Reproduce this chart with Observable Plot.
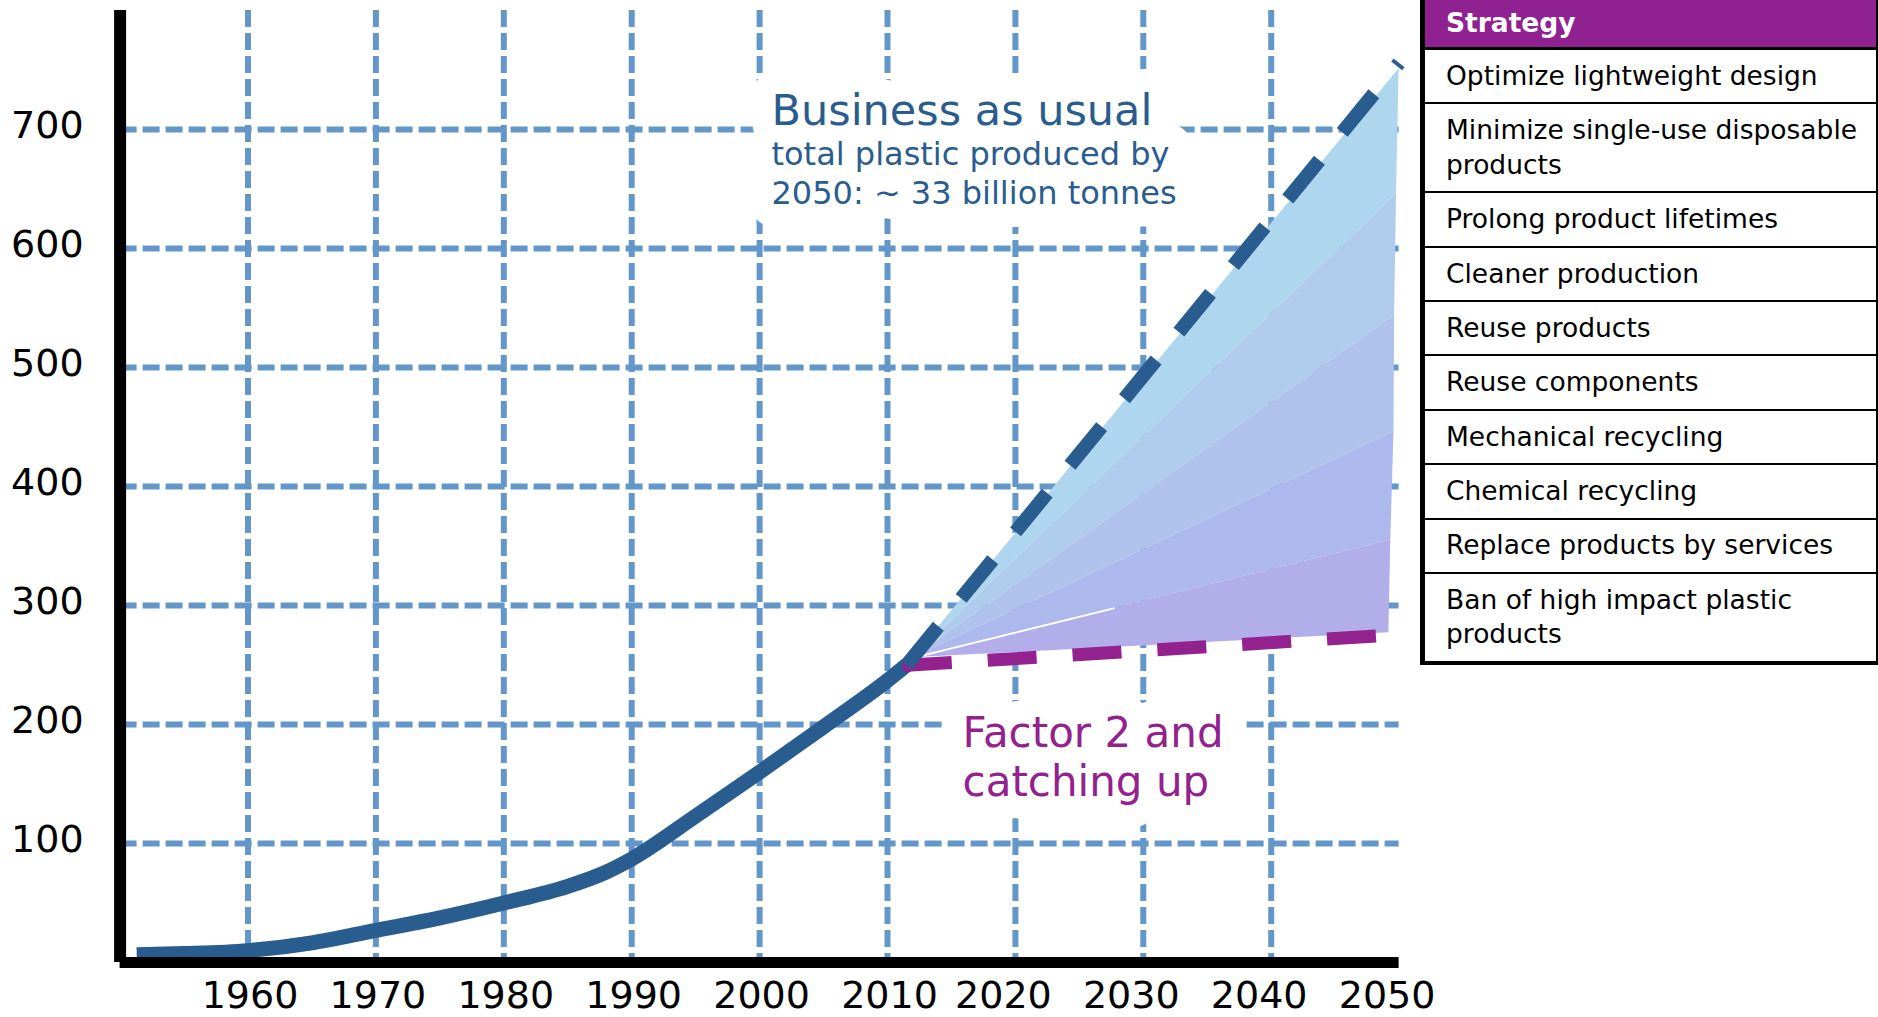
<!DOCTYPE html>
<html>
<head>
<meta charset="utf-8">
<script src="https://cdn.jsdelivr.net/npm/d3@7"></script>
<script src="https://cdn.jsdelivr.net/npm/@observablehq/plot@0.6"></script>
<style>
  html, body { margin: 0; padding: 0; background: #fff; }
  #wrap { position: relative; width: 1878px; height: 1017px; overflow: hidden; }
  #chart svg { display: block; overflow: visible; }
  #legend { position: absolute; left: 1420px; top: 0; }
  #legend table {
    border-collapse: collapse;
    width: 458px;
    font-family: "DejaVu Sans", Verdana, sans-serif;
    font-size: 26.5px;
    color: #000;
    border-left: 5px solid #000;
    border-right: 2px solid #000;
  }
  #legend th {
    background: #8f2190;
    color: #fff;
    font-weight: bold;
    text-align: left;
    line-height: 34px;
    padding: 6px 4px 7px 21px;
    border-bottom: 3px solid #000;
  }
  #legend td {
    line-height: 34.6px;
    padding: 8.9px 4px 8.9px 21px;
    border-bottom: 2px solid #000;
  }
  #legend tr:last-child td { border-bottom-width: 4px; }
</style>
</head>
<body>
<div id="wrap">
  <div id="chart"></div>
  <div id="legend"></div>
</div>
<script>
// Global plastic production, million tonnes per year
const histYears  = [1951.3, 1955, 1960, 1965, 1970, 1975, 1980, 1985, 1988, 1990, 1995, 2000, 2005, 2010, 2011.5];
const histValues = [6.5, 7.5, 10, 16.5, 27, 37.5, 50, 64, 76, 87, 123, 160, 198, 237, 250];

// Business-as-usual projection
const bauYears  = [2011.5, 2050];
const bauValues = [250, 756];

// "Factor 2 and catching up" pathway
const factor2Years  = [2011.2, 2049.2];
const factor2Values = [249.5, 275];

// Strategy wedge: common starting point and band edges reached in 2050 (top to bottom)
const fanStartYear  = 2012;
const fanStartValue = 256;
const fanEdgeYears  = [2050, 2049.8, 2049.65, 2049.6, 2049.35, 2049.2];
const fanEdgeValues = [751, 646, 544, 446, 355, 277];
const fanColors     = ["#afd6ef", "#b0ccec", "#afc2ec", "#adb9ec", "#b1aee9"];

// Axis ticks and grid
const yTicks = [100, 200, 300, 400, 500, 600, 700];
const xTicks = [1960, 1970, 1980, 1990, 2000, 2010, 2020, 2030, 2040, 2050];
const xGrid  = [1960, 1970, 1980, 1990, 2000, 2010, 2020, 2030, 2040];

// Strategy table
const strategies = [
  "Optimize lightweight design",
  "Minimize single-use disposable products",
  "Prolong product lifetimes",
  "Cleaner production",
  "Reuse products",
  "Reuse components",
  "Mechanical recycling",
  "Chemical recycling",
  "Replace products by services",
  "Ban of high impact plastic products"
];

// ---- tables built from the arrays ----
const hist    = histYears.map((year, i) => ({year, value: histValues[i]}));
const bau     = bauYears.map((year, i) => ({year, value: bauValues[i]}));
const factor2 = factor2Years.map((year, i) => ({year, value: factor2Values[i]}));

// each band is a triangle: the shared start point plus its upper and lower edge in 2050
const bands = fanColors.map((color, i) => ({
  color,
  rows: [
    {x1: fanStartYear, y1: fanStartValue, x2: fanStartYear, y2: fanStartValue},
    {x1: fanEdgeYears[i + 1], y1: fanEdgeValues[i + 1], x2: fanEdgeYears[i], y2: fanEdgeValues[i]}
  ]
}));

// thin white seam running part way along the lowest band's upper edge
const seamT = 0.42;
const seam = [
  {year: fanStartYear, value: fanStartValue},
  {year: fanStartYear + seamT * (fanEdgeYears[4] - fanStartYear),
   value: fanStartValue + seamT * (fanEdgeValues[4] - fanStartValue)}
];

const gridColor = "#6397c9";
const blue = "#2a5d8f";
const purple = "#93218e";
const font = "DejaVu Sans";

// annotation labels, drawn twice: a white backing that clears the grid, then the text itself
const labels = [
  {text: "Business as usual", x: 2000.93, y: 703.4, size: 43, lh: 1, color: blue},
  {text: "total plastic produced by\n2050: ~ 33 billion tonnes", x: 2000.93, y: 637.8, size: 32, lh: 1.19, color: blue},
  {text: "Factor 2 and\ncatching up", x: 2015.87, y: 139.5, size: 42, lh: 1.167, color: purple}
];
const labelMarks = (backing) => labels.map(l => Plot.text([l.text], {
  x: l.x, y: l.y, text: d => d, textAnchor: "start", lineAnchor: "bottom",
  lineHeight: l.lh, fontSize: l.size,
  fill: backing ? "white" : l.color,
  ...(backing ? {stroke: "white", strokeWidth: 46, strokeLinejoin: "round"} : {})
}));

const chart = Plot.plot({
  width: 1878,
  height: 1017,
  marginLeft: 119.6,
  marginRight: 479.4,
  marginTop: 10,
  marginBottom: 55,
  style: {fontFamily: font, background: "#fff"},
  x: {domain: [1950, 2050], axis: null},
  y: {domain: [0, 800], axis: null},
  marks: [
    // dashed grid
    Plot.ruleY(yTicks, {x1: 1950, x2: 2050, stroke: gridColor, strokeWidth: 6, strokeDasharray: "17,6"}),
    Plot.ruleX(xGrid, {y1: 800, y2: 0, stroke: gridColor, strokeWidth: 6, strokeDasharray: "17,6"}),

    // white backing behind the annotations
    ...labelMarks(true),

    // strategy wedge
    ...bands.map(b => Plot.area(b.rows, {x1: "x1", y1: "y1", x2: "x2", y2: "y2", fill: b.color})),
    Plot.line(seam, {x: "year", y: "value", stroke: "white", strokeWidth: 2}),

    // historical production
    Plot.line(hist, {
      x: "year", y: "value", curve: "monotone-x",
      stroke: blue, strokeWidth: 15, strokeLinecap: "butt", strokeLinejoin: "round"
    }),
    // pathways
    Plot.line(factor2, {
      x: "year", y: "value", stroke: purple, strokeWidth: 13,
      strokeDasharray: "49,36", strokeLinecap: "butt"
    }),
    Plot.line(bau, {
      x: "year", y: "value", stroke: blue, strokeWidth: 14,
      strokeDasharray: "50,36", strokeLinecap: "butt"
    }),

    // axes
    Plot.ruleX([1950], {y1: 0, y2: 800, stroke: "#000", strokeWidth: 12}),
    Plot.ruleY([0], {x1: 1950, x2: 2050, stroke: "#000", strokeWidth: 11}),

    // tick labels
    Plot.text(yTicks, {
      x: 1950, y: d => d, text: d => String(d), textAnchor: "start", dx: -109, dy: -4,
      fontSize: 38, fill: "#000"
    }),
    Plot.text(xTicks.filter(d => d <= 2010), {
      x: d => d, y: 0, text: d => String(d), dy: 33, dx: 2, fontSize: 38, fill: "#000"
    }),
    Plot.text(xTicks.filter(d => d >= 2020), {
      x: d => d, y: 0, text: d => String(d), dy: 33, dx: -12, fontSize: 38, fill: "#000"
    }),

    // annotation text
    ...labelMarks(false)
  ]
});
document.getElementById("chart").appendChild(chart);

// strategy table
const table = d3.select("#legend").append("table");
table.append("thead").append("tr").append("th").text("Strategy");
table.append("tbody").selectAll("tr")
  .data(strategies)
  .join("tr")
  .append("td")
  .text(d => d);
</script>
</body>
</html>
